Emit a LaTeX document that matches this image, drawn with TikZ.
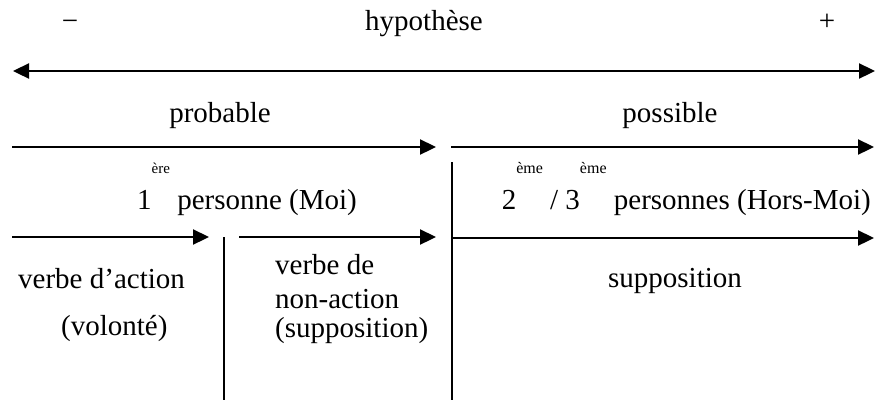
\documentclass[tikz,border=0pt]{standalone}
\usepackage{fontspec}
\setmainfont{Liberation Serif}
\usetikzlibrary{arrows.meta}
\newcommand{\supA}[1]{\raisebox{36pt}{\fontsize{15}{15}\selectfont #1}}
\newcommand{\supB}[1]{\raisebox{36pt}{\fontsize{16}{16}\selectfont #1}}
\begin{document}
\begin{tikzpicture}[x=1pt,y=-1pt,
  txt/.style={inner sep=0pt,font=\fontsize{29}{31}\selectfont},
  arr/.style={line width=2.3pt,-{Triangle[length=16pt,width=15pt]}},
  darr/.style={line width=2.3pt,{Triangle[length=16pt,width=15pt]}-{Triangle[length=16pt,width=15pt]}},
  sep/.style={line width=1.6pt}]
\useasboundingbox (0,0) rectangle (886,400);
% top labels
\node[txt,anchor=base] (minus) at (70,30) {−};
\node[txt,anchor=base] (hyp) at (424,30) {hypothèse};
\node[txt,anchor=base] (plus) at (827,30) {+};
% scale arrow
\coordinate (h1) at (13,71);
\coordinate (h2) at (875,71);
\draw[darr] (h1) -- (h2);
% probable / possible
\node[txt,anchor=base] (prob) at (220,122) {probable};
\node[txt,anchor=base] (poss) at (670,122) {possible};
\coordinate (p1) at (12,147);
\coordinate (p2) at (436,147);
\coordinate (q1) at (451,147);
\coordinate (q2) at (874,147);
\draw[arr] (p1) -- (p2);
\draw[arr] (q1) -- (q2);
% persons
\node[txt,anchor=base west] (moi) at (137,209) {1\supA{ère} personne (Moi)};
\node[txt,anchor=base east] (hors) at (871,209) {2\supB{ème} / 3\supB{ème} personnes (Hors-Moi)};
% third row arrows
\coordinate (a1) at (12,237);
\coordinate (a2) at (209,237);
\coordinate (b1) at (239,237);
\coordinate (b2) at (436,237);
\coordinate (c1) at (452,238);
\coordinate (c2) at (874,238);
\draw[arr] (a1) -- (a2);
\draw[arr] (b1) -- (b2);
\draw[arr] (c1) -- (c2);
% separators
\coordinate (s1) at (224,237);
\coordinate (s2) at (224,400);
\coordinate (t1) at (452,162);
\coordinate (t2) at (452,400);
\draw[sep] (s1) -- (s2);
\draw[sep] (t1) -- (t2);
% bottom texts
\node[txt,anchor=base west] (va) at (18,288) {verbe d’action};
\node[txt,anchor=base west] (vol) at (61,335) {(volonté)};
\node[txt,anchor=base west] (vd1) at (275,274) {verbe de};
\node[txt,anchor=base west] (vd2) at (275,308) {non-action};
\node[txt,anchor=base west] (vd3) at (275,337) {(supposition)};
\node[txt,anchor=base] (sup) at (675,287) {supposition};
\end{tikzpicture}
\end{document}
